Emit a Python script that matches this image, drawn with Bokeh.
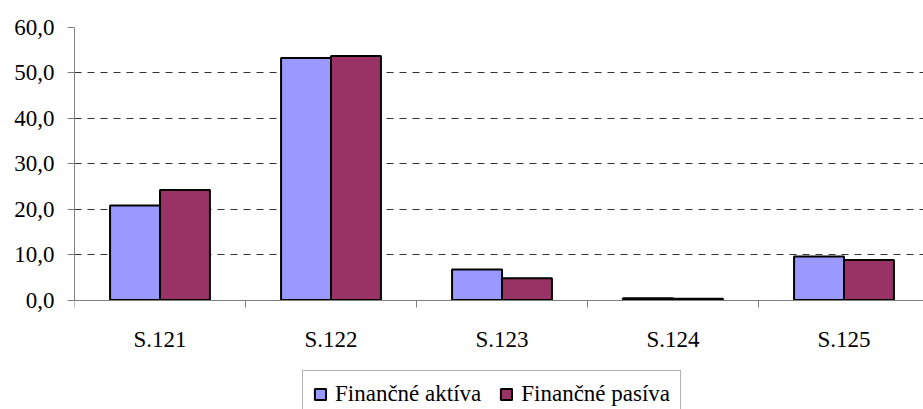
from bokeh.plotting import figure
from bokeh.models import Range1d, FixedTicker, Legend, LegendItem, ColumnDataSource
from bokeh.embed import file_html
from bokeh.resources import INLINE

categories = ["S.121", "S.122", "S.123", "S.124", "S.125"]
aktiva = [20.8, 53.3, 6.7, 0.4, 9.6]
pasiva = [24.2, 53.7, 4.8, 0.3, 8.8]
series_names = ["Finančné aktíva", "Finančné pasíva"]
yticks = [0, 10, 20, 30, 40, 50, 60]
ytick_labels = ["0,0", "10,0", "20,0", "30,0", "40,0", "50,0", "60,0"]

FONT = "Liberation Serif"
BAR_W = 0.292
centers = [i + 0.5 for i in range(len(categories))]
boundaries = [i for i in range(0, len(categories) + 1)]

# layout (pixels)
W, H = 923, 409
LEFT, TOP = 74, 27
ZERO_PX = 299.5          # pixel row of the value 0
CAT_PX = 171.0           # pixel width of one category
YMAX = 60
y_start = -YMAX * (H - ZERO_PX) / (ZERO_PX - TOP)

p = figure(width=W, height=H, output_backend="svg", toolbar_location=None,
           x_range=Range1d(0, (W - LEFT) / CAT_PX), y_range=Range1d(y_start, YMAX),
           min_border_left=LEFT, min_border_right=0, min_border_top=TOP,
           min_border_bottom=0)
p.outline_line_color = None
p.background_fill_color = "white"
p.border_fill_color = "white"

src_a = ColumnDataSource(dict(x=[c - BAR_W / 2 for c in centers], top=aktiva))
src_p = ColumnDataSource(dict(x=[c + BAR_W / 2 for c in centers], top=pasiva))
ra = p.vbar(x="x", top="top", bottom=0, width=BAR_W, source=src_a, fill_color="#9999FF",
            line_color="black", line_width=2)
rp = p.vbar(x="x", top="top", bottom=0, width=BAR_W, source=src_p, fill_color="#993366",
            line_color="black", line_width=2)

# x axis, drawn at value 0
xa = p.xaxis[0]
xa.fixed_location = 0
xa.ticker = FixedTicker(ticks=centers, minor_ticks=boundaries)
xa.major_label_overrides = {c: lab for c, lab in zip(centers, categories)}
xa.major_tick_line_color = None
xa.major_tick_out = 0
xa.major_tick_in = 0
xa.minor_tick_out = 7
xa.minor_tick_in = 0
xa.minor_tick_line_color = "#808080"
xa.axis_line_color = "#808080"
xa.major_label_standoff = 20
xa.major_label_text_font = FONT
xa.major_label_text_font_size = "23px"
xa.major_label_text_color = "black"

# y axis
ya = p.yaxis[0]
ya.ticker = FixedTicker(ticks=yticks)
ya.bounds = (0, YMAX)
ya.major_label_overrides = {t: lab for t, lab in zip(yticks, ytick_labels)}
ya.minor_tick_line_color = None
ya.major_tick_out = 7
ya.major_tick_in = 0
ya.major_tick_line_color = "#808080"
ya.axis_line_color = "#808080"
ya.major_label_standoff = 13
ya.major_label_text_font = FONT
ya.major_label_text_font_size = "23px"
ya.major_label_text_color = "black"

p.xgrid.grid_line_color = None
p.ygrid.grid_line_color = "#333333"
p.ygrid.grid_line_dash = "7 6"
p.ygrid.grid_line_width = 1
p.ygrid.bounds = (0, YMAX)

legend = Legend(items=[LegendItem(label=series_names[0], renderers=[ra]),
                       LegendItem(label=series_names[1], renderers=[rp])],
                orientation="horizontal", location=(228, -9))
legend.label_text_font = FONT
legend.label_text_font_size = "23px"
legend.label_text_color = "black"
legend.glyph_width = 14
legend.glyph_height = 14
legend.label_standoff = 8
legend.spacing = 18
legend.padding = 10
legend.margin = 0
legend.border_line_color = "#666666"
legend.border_line_width = 1
legend.background_fill_alpha = 1
p.add_layout(legend, "center")

open("out.html", "w").write(file_html(p, INLINE))
